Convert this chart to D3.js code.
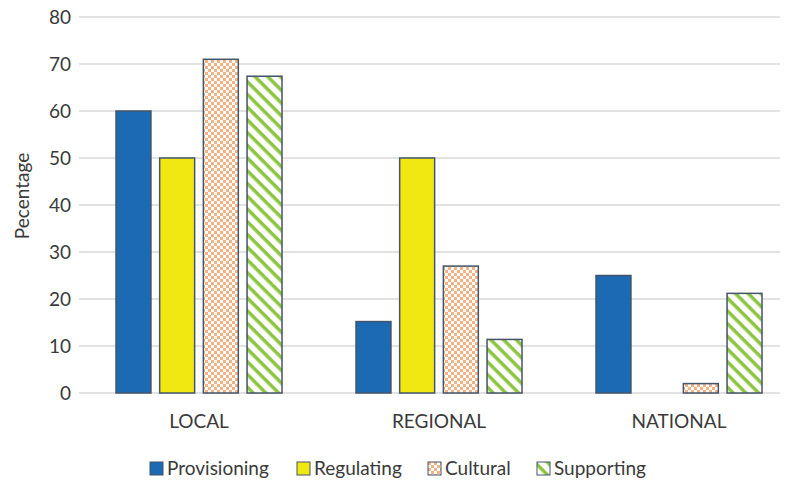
<!DOCTYPE html>
<html lang="en">
<head>
  <meta charset="UTF-8">
  <title>Ecosystem services by scale</title>
  <script src="https://d3js.org/d3.v7.min.js"></script>
  <style>
    body { margin: 0; background: #fff; }
    text { font-family: Lato, 'Open Sans', sans-serif; fill: #3a3a3a; }
  </style>
</head>
<body>
<div id="chart"></div>
<script>
// data
const scales = ["LOCAL", "REGIONAL", "NATIONAL"];
const services = ["Provisioning", "Regulating", "Cultural", "Supporting"];
const provisioning = [60, 15.2, 25];
const regulating = [50, 50, 0];
const cultural = [71, 27, 2];
const supporting = [67.4, 11.4, 21.2];
const yTicks = [0, 10, 20, 30, 40, 50, 60, 70, 80];

const seriesValues = [provisioning, regulating, cultural, supporting];

const width = 789, height = 481;
const plotLeft = 79, plotTop = 17, plotBottom = 393;

const svg = d3.select("#chart").append("svg")
  .attr("width", width)
  .attr("height", height);

// patterns for the hatched series
const defs = svg.append("defs");
const checker = defs.append("pattern")
  .attr("id", "checker")
  .attr("patternUnits", "userSpaceOnUse")
  .attr("width", 6).attr("height", 6);
checker.append("rect").attr("width", 6).attr("height", 6).attr("fill", "#fff");
checker.append("rect").attr("width", 3).attr("height", 3).attr("fill", "#F4B183");
checker.append("rect").attr("x", 3).attr("y", 3).attr("width", 3).attr("height", 3).attr("fill", "#F4B183");

const stripes = defs.append("pattern")
  .attr("id", "stripes")
  .attr("patternUnits", "userSpaceOnUse")
  .attr("width", 9).attr("height", 9)
  .attr("patternTransform", "rotate(45)");
stripes.append("rect").attr("width", 9).attr("height", 9).attr("fill", "#fff");
stripes.append("rect").attr("width", 9).attr("height", 3.5).attr("fill", "#8CC540");

const fills = ["#1B6AB3", "#F2E811", "url(#checker)", "url(#stripes)"];

const x0 = d3.scaleBand().domain(scales).range([plotLeft, plotLeft + 240 * 3]);
const x1 = d3.scaleBand().domain(services).range([37, 203]).paddingInner(0.2);
const y = d3.scaleLinear().domain([0, 80]).range([plotBottom, plotTop]);

// gridlines
svg.append("g").selectAll("line")
  .data(yTicks)
  .join("line")
  .attr("x1", plotLeft).attr("x2", 780)
  .attr("y1", d => y(d)).attr("y2", d => y(d))
  .attr("stroke", "#D9D9D9")
  .attr("stroke-width", 1.5);

// y tick labels
svg.append("g").selectAll("text")
  .data(yTicks)
  .join("text")
  .attr("x", 71)
  .attr("y", d => y(d))
  .attr("dy", "0.36em")
  .attr("text-anchor", "end")
  .attr("font-size", 19)
  .text(d => d);

// axis title
svg.append("text")
  .attr("transform", "translate(22,196) rotate(-90)")
  .attr("text-anchor", "middle")
  .attr("dy", "0.35em")
  .attr("font-size", 19)
  .text("Pecentage");

// bars
const groups = svg.append("g").selectAll("g")
  .data(scales)
  .join("g")
  .attr("transform", d => `translate(${x0(d)},0)`);

groups.selectAll("rect")
  .data((d, i) => services.map((s, j) => ({ s, j, v: seriesValues[j][i] })).filter(e => e.v > 0))
  .join("rect")
  .attr("x", d => x1(d.s))
  .attr("width", x1.bandwidth())
  .attr("y", d => y(d.v))
  .attr("height", d => plotBottom - y(d.v))
  .attr("fill", d => fills[d.j])
  .attr("stroke", "#44546A")
  .attr("stroke-width", 1.5);

// category labels
svg.append("g").selectAll("text")
  .data(scales)
  .join("text")
  .attr("x", d => x0(d) + 120)
  .attr("y", 428)
  .attr("text-anchor", "middle")
  .attr("font-size", 19)
  .text(d => d);

// legend
const legendX = [150, 297, 428, 537];
const legend = svg.append("g").selectAll("g")
  .data(services)
  .join("g")
  .attr("transform", (d, i) => `translate(${legendX[i]},462)`);

legend.append("rect")
  .attr("width", 13).attr("height", 13)
  .attr("fill", (d, i) => fills[i])
  .attr("stroke", "#44546A")
  .attr("stroke-width", 1);

legend.append("text")
  .attr("x", 17)
  .attr("y", 6.5)
  .attr("dy", "0.36em")
  .attr("font-size", 19)
  .text(d => d);
</script>
</body>
</html>
